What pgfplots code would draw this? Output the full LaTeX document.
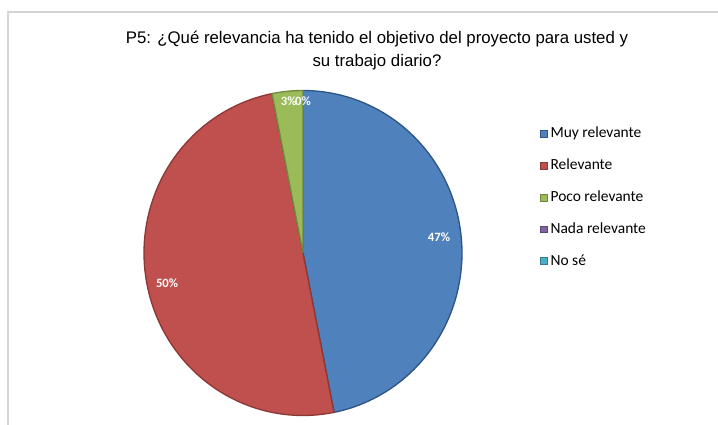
\documentclass[border=0pt]{standalone}
\usepackage{fontspec}
\setmainfont{Liberation Sans}
\newfontfamily\calfont{Carlito}
\usepackage{pgfplots}
\usepackage{pgfplotstable}
\pgfplotsset{compat=1.18}
\definecolor{cA}{HTML}{4F81BD}
\definecolor{cAd}{HTML}{2F5584}
\definecolor{cB}{HTML}{C0504D}
\definecolor{cBd}{HTML}{8C3836}
\definecolor{cC}{HTML}{9BBB59}
\definecolor{cCd}{HTML}{71893F}
\definecolor{cD}{HTML}{8064A2}
\definecolor{cDd}{HTML}{5C4776}
\definecolor{cE}{HTML}{4BACC6}
\definecolor{cEd}{HTML}{357D91}
\definecolor{frame}{HTML}{D4D4D4}

\pgfplotstableread{
count
15
16
1
0
0
}\piedata
\pgfplotstablegetelem{0}{count}\of\piedata \let\nA\pgfplotsretval
\pgfplotstablegetelem{1}{count}\of\piedata \let\nB\pgfplotsretval
\pgfplotstablegetelem{2}{count}\of\piedata \let\nC\pgfplotsretval
\pgfmathsetmacro\total{\nA+\nB+\nC}
\pgfmathsetmacro\aA{360*\nA/\total}
\pgfmathsetmacro\aB{\aA+360*\nB/\total}
\pgfmathsetmacro\aC{\aB+360*\nC/\total}

\begin{document}
\begin{tikzpicture}
\useasboundingbox (0,0) rectangle (538.5pt,318.75pt);
\draw[color=frame, line width=0.8pt] (6pt,0pt) -- (6pt,309.75pt) -- (538.5pt,309.75pt);
\node[font=\fontsize{12.6}{17.25}\selectfont, align=center] at (282.75pt,280.5pt)
  {P5: ¿Qué relevancia ha tenido el objetivo del proyecto para usted y\\ su trabajo diario?};
\begin{axis}[
  hide axis, scale only axis,
  width=238.5pt, height=243.75pt,
  xmin=-1, xmax=1, ymin=-1, ymax=1,
  at={(227.25pt,129pt)}, anchor=center, clip=false,
  legend style={draw=none, fill=none, at={(1.245,0.896)}, anchor=north west,
    font=\calfont\fontsize{11.6}{13}\selectfont, row sep=10.4pt, inner sep=0pt},
  legend cell align=left,
  legend image code/.code={\draw[#1, line width=0.6pt] (0pt,-2.6pt) rectangle (5.2pt,2.6pt);},
]
\addplot[fill=cA, draw=cAd, line width=1pt, domain=0:\aA, samples=90, variable=\t]
  ({sin(t)},{cos(t)}) -- (axis cs:0,0) -- cycle;
\addlegendentry{Muy relevante}
\addplot[fill=cB, draw=cBd, line width=1pt, domain=\aA:\aB, samples=90, variable=\t]
  ({sin(t)},{cos(t)}) -- (axis cs:0,0) -- cycle;
\addlegendentry{Relevante}
\addplot[fill=cC, draw=cCd, line width=1pt, domain=\aB:\aC, samples=10, variable=\t]
  ({sin(t)},{cos(t)}) -- (axis cs:0,0) -- cycle;
\addlegendentry{Poco relevante}
\addlegendimage{fill=cD, draw=cDd}
\addlegendentry{Nada relevante}
\addlegendimage{fill=cE, draw=cEd}
\addlegendentry{No sé}
\begin{scope}[font=\calfont\bfseries\fontsize{9.5}{10}\selectfont, text=white]
\node at (axis cs:0.855,0.099) {47\%};
\node at (axis cs:-0.855,-0.185) {50\%};
\node[inner sep=0pt] at (axis cs:-0.09,0.935) {3\%};
\node[inner sep=0pt] at (axis cs:0.0,0.935) {0\%};
\end{scope}
\end{axis}
\end{tikzpicture}
\end{document}
